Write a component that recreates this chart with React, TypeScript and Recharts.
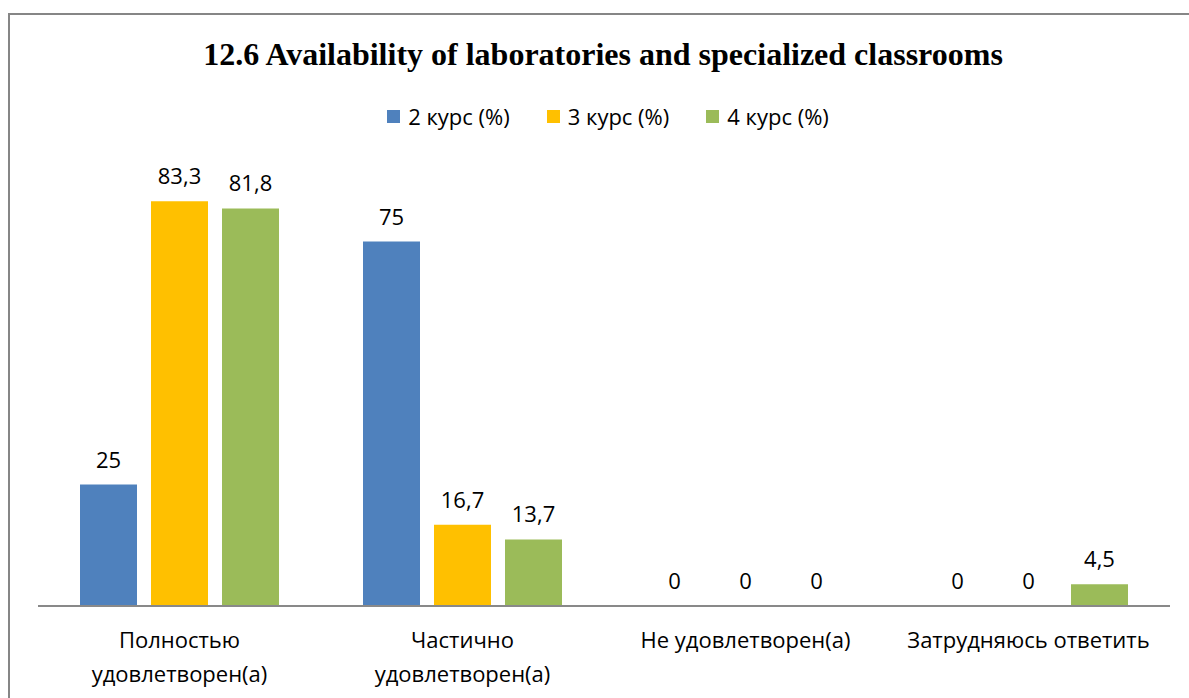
import React from "react";
import { BarChart, Bar, XAxis, YAxis, LabelList } from "recharts";

const categories = [
  "Полностью удовлетворен(а)",
  "Частично удовлетворен(а)",
  "Не удовлетворен(а)",
  "Затрудняюсь ответить",
];
const course2 = [25, 75, 0, 0];
const course3 = [83.3, 16.7, 0, 0];
const course4 = [81.8, 13.7, 0, 4.5];

const seriesNames = ["2 курс (%)", "3 курс (%)", "4 курс (%)"];
const colors = ["#4F81BD", "#FFC000", "#9BBB59"];

const data = categories.map((name, i) => ({
  name,
  c2: course2[i],
  c3: course3[i],
  c4: course4[i],
}));

const FONT = "'Open Sans', sans-serif";
const fmt = (v: any) => String(v).replace(".", ",");

let ctx: CanvasRenderingContext2D | null = null;
function wrap(text: string, maxWidth: number, font: string): string[] {
  if (!ctx) ctx = document.createElement("canvas").getContext("2d");
  if (!ctx) return [text];
  ctx.font = font;
  const words = text.split(" ");
  const lines: string[] = [];
  let cur = "";
  for (const w of words) {
    const test = cur ? cur + " " + w : w;
    if (cur && ctx.measureText(test).width > maxWidth) {
      lines.push(cur);
      cur = w;
    } else {
      cur = test;
    }
  }
  if (cur) lines.push(cur);
  return lines;
}

const CategoryTick = (props: any) => {
  const { x, y, payload } = props;
  const lines = wrap(String(payload.value), 262, "22px 'Open Sans'");
  return (
    <text
      x={x}
      y={y}
      textAnchor="middle"
      fontSize={22}
      fontFamily={FONT}
      fill="#000"
    >
      {lines.map((l, i) => (
        <tspan key={i} x={x} dy={i === 0 ? 34 : 34}>
          {l}
        </tspan>
      ))}
    </text>
  );
};

export default function App() {
  const keys = ["c2", "c3", "c4"];
  return (
    <div
      style={{
        position: "fixed",
        left: 0,
        top: 0,
        width: 1189,
        height: 698,
        overflow: "hidden",
        background: "#fff",
      }}
    >
      <div
        style={{
          position: "absolute",
          left: 8,
          top: 13,
          width: 1300,
          height: 800,
          borderTop: "2px solid #868686",
          borderLeft: "2px solid #868686",
        }}
      />
      <div
        style={{
          position: "absolute",
          left: 0,
          top: 36,
          width: 1206,
          textAlign: "center",
          fontFamily: "'Liberation Serif', 'Times New Roman', serif",
          fontWeight: "bold",
          fontSize: 32,
          lineHeight: "36px",
          color: "#000",
        }}
      >
        12.6 Availability of laboratories and specialized classrooms
      </div>
      <div
        style={{
          position: "absolute",
          left: 0,
          top: 101,
          width: 1216,
          display: "flex",
          justifyContent: "center",
          alignItems: "center",
          fontFamily: FONT,
          fontSize: 22,
          height: 30,
        }}
      >
        {seriesNames.map((s, i) => (
          <div
            key={s}
            style={{ display: "flex", alignItems: "center", marginRight: i < 2 ? 37 : 0 }}
          >
            <span
              style={{
                display: "inline-block",
                width: 13,
                height: 13,
                background: colors[i],
                marginRight: 8,
              }}
            />
            <span>{s}</span>
          </div>
        ))}
      </div>
      <div style={{ position: "absolute", left: 0, top: 0 }}>
        <BarChart
          width={1189}
          height={698}
          data={data}
          margin={{ top: 120, right: 19, bottom: 32, left: 38 }}
          barGap={14}
          barCategoryGap={42}
        >
          <XAxis
            dataKey="name"
            axisLine={{ stroke: "#898989", strokeWidth: 2 }}
            tickLine={false}
            height={60}
            interval={0}
            tick={<CategoryTick />}
          />
          <YAxis hide domain={[0, 100]} width={0} />
          {keys.map((k, i) => (
            <Bar
              key={k}
              dataKey={k}
              fill={colors[i]}
              minPointSize={0.1}
              isAnimationActive={false}
            >
              <LabelList
                dataKey={k}
                position="top"
                offset={17}
                formatter={fmt}
                fontSize={22}
                fontFamily={FONT}
                fill="#000"
              />
            </Bar>
          ))}
        </BarChart>
      </div>
    </div>
  );
}
